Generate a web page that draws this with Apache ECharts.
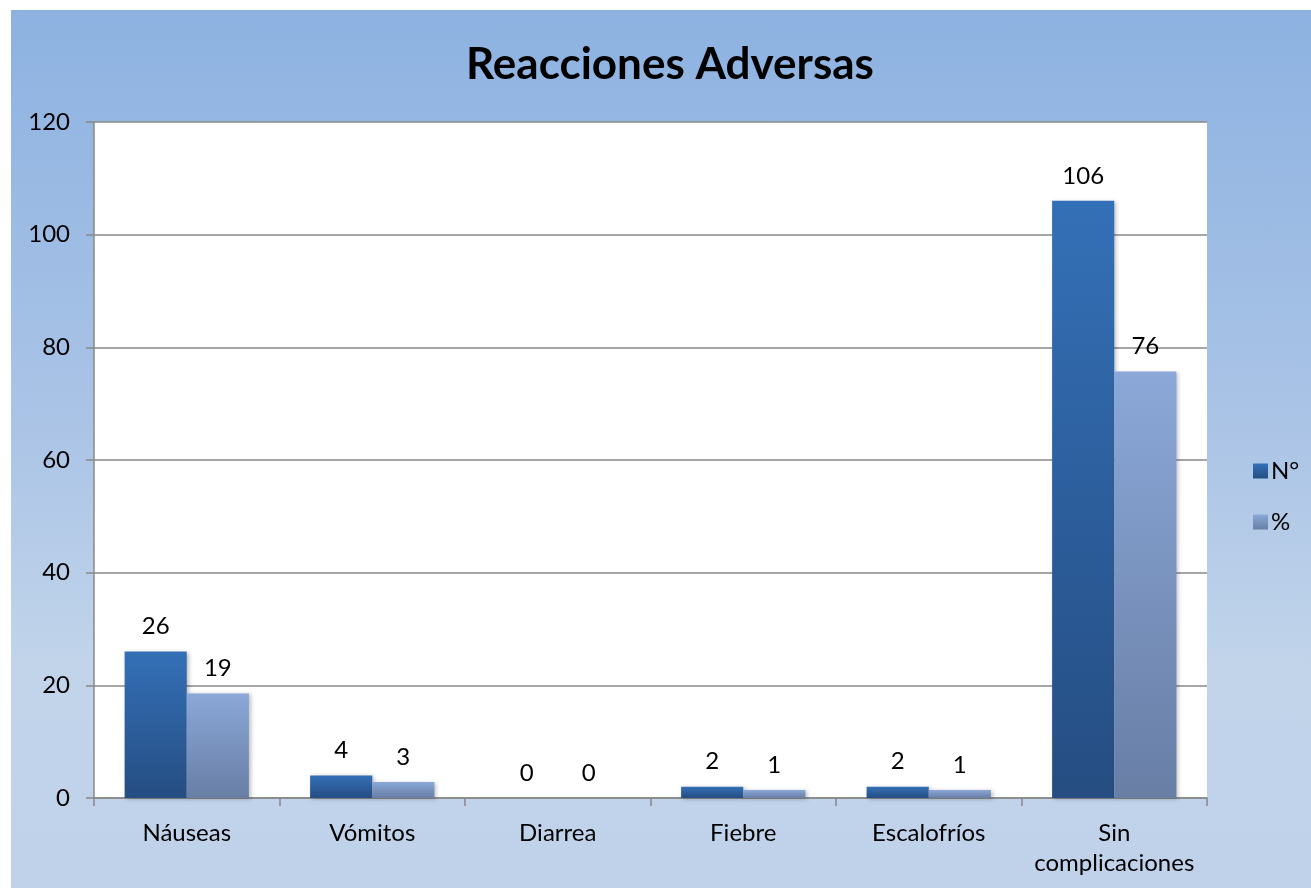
<!DOCTYPE html>
<html>
<head>
<meta charset="utf-8">
<script src="https://cdn.jsdelivr.net/npm/echarts@6/dist/echarts.min.js"></script>
<style>
html,body{margin:0;padding:0;background:#fff;width:1311px;height:888px;overflow:hidden;}
#chart{position:absolute;left:11px;top:10px;width:1300px;height:878px;
background:linear-gradient(to bottom,#8db2e1 0%,#a9c3e6 45%,#c1d4ea 75%,#bfd2ea 100%);}
</style>
</head>
<body>
<div id="chart"></div>
<script>
const categories = ['Náuseas', 'Vómitos', 'Diarrea', 'Fiebre', 'Escalofríos', 'Sin\ncomplicaciones'];
const seriesNames = ['N°', '%'];
const countValues = [26, 4, 0, 2, 2, 106];
const percentValues = [18.57, 2.86, 0, 1.43, 1.43, 75.71];
const yTicks = {min: 0, max: 120, interval: 20};

const FONT = 'Lato, "Open Sans", sans-serif';
const chart = echarts.init(document.getElementById('chart'), null, {renderer: 'canvas'});

function grad(top, bottom) {
  return new echarts.graphic.LinearGradient(0, 0, 0, 1, [
    {offset: 0, color: top}, {offset: 1, color: bottom}
  ]);
}

const labelStyle = {
  show: true, position: 'top', distance: 13,
  color: '#000', fontSize: 24, fontFamily: FONT,
  formatter: p => Math.round(p.value)
};

chart.setOption({
  animation: false,
  backgroundColor: 'transparent',
  title: {
    text: 'Reacciones Adversas',
    left: 450, top: 28,
    textStyle: {fontFamily: FONT, fontWeight: 'bold', fontSize: 44, color: '#000'}
  },
  legend: {
    orient: 'vertical', left: 1237, top: 444,
    icon: 'rect',
    itemWidth: 15, itemHeight: 15, itemGap: 27,
    textStyle: {fontFamily: FONT, fontSize: 24, color: '#000', padding: [0, 0, 0, -2]},
    data: seriesNames
  },
  grid: {
    left: 83, top: 112, right: 104, bottom: 90,
    show: true, backgroundColor: '#ffffff', borderWidth: 0
  },
  xAxis: {
    type: 'category', data: categories,
    axisLine: {lineStyle: {color: '#888', width: 1.5}},
    axisTick: {show: true, length: 8, lineStyle: {color: '#888', width: 1.5}},
    axisLabel: {color: '#000', fontFamily: FONT, fontSize: 24, margin: 20, lineHeight: 30, interval: 0}
  },
  yAxis: {
    type: 'value', min: yTicks.min, max: yTicks.max, interval: yTicks.interval,
    axisLine: {show: true, lineStyle: {color: '#888', width: 1.5}},
    axisTick: {show: true, length: 8, lineStyle: {color: '#888', width: 1.5}},
    splitLine: {lineStyle: {color: '#888', width: 1.5}},
    axisLabel: {color: '#000', fontFamily: FONT, fontSize: 24, margin: 24}
  },
  series: [
    {
      name: seriesNames[0], type: 'bar', data: countValues,
      barGap: '0%', barCategoryGap: '33%',
      itemStyle: {color: grad('#3470b7', '#254d82'), shadowColor: 'rgba(0,0,0,0.25)', shadowBlur: 4, shadowOffsetX: 2, shadowOffsetY: 1},
      label: labelStyle
    },
    {
      name: seriesNames[1], type: 'bar', data: percentValues,
      barGap: '0%', barCategoryGap: '33%',
      itemStyle: {color: grad('#8ba8d8', '#687ea5'), shadowColor: 'rgba(0,0,0,0.25)', shadowBlur: 4, shadowOffsetX: 2, shadowOffsetY: 1},
      label: labelStyle
    }
  ]
});
</script>
</body>
</html>
